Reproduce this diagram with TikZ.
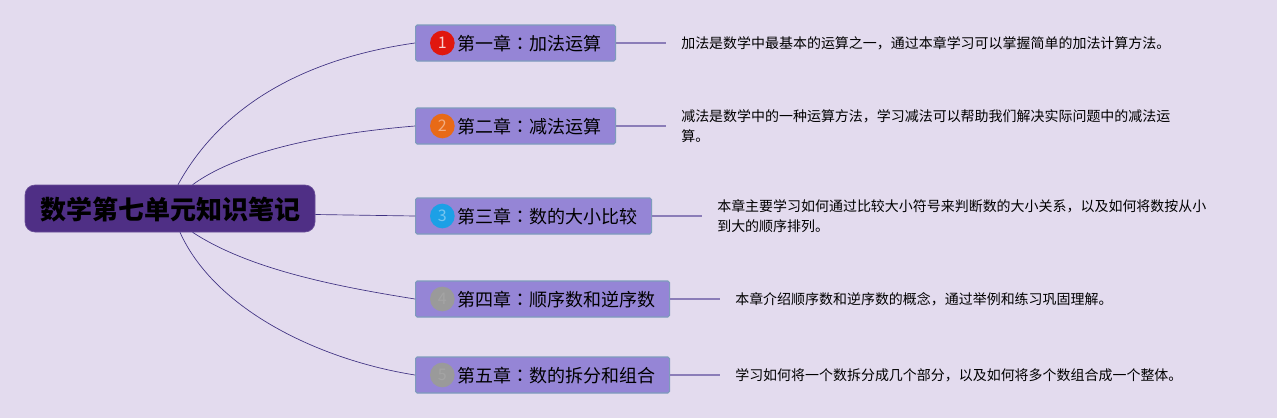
\documentclass[tikz,border=0pt]{standalone}
\usepackage{fontspec}
\setmainfont{Noto Sans CJK SC}
\newfontfamily\colonfont{Noto Sans CJK TC}
\usetikzlibrary{positioning}
\definecolor{paper}{HTML}{E3DBEE}
\definecolor{titlefill}{HTML}{4F2F85}
\definecolor{chapfill}{HTML}{9585D6}
\definecolor{chapline}{HTML}{7E9BBC}
\definecolor{curveline}{HTML}{3F3182}
\definecolor{stubline}{HTML}{8B7DB8}
\definecolor{badgered}{HTML}{E0170F}
\definecolor{badgeorange}{HTML}{E86A17}
\definecolor{badgeblue}{HTML}{1CA0E6}
\definecolor{badgegray}{HTML}{9A9A9A}
\newcommand{\chapcolon}{{\colonfont ：}}
\tikzset{
  maptitle/.style={rectangle, rounded corners=7.5pt, fill=titlefill, draw=titlefill!85!white, line width=0.5pt,
    minimum width=217.5pt, minimum height=35.25pt, inner sep=0pt, text height=16pt, text depth=0pt,
    font=\fontsize{19.5}{22}\selectfont\bfseries},
  chapter/.style={rectangle, rounded corners=1.2pt, fill=chapfill, draw=chapline, line width=0.8pt, anchor=west,
    minimum height=27pt, inner xsep=0pt, inner ysep=0pt, text height=12pt, text depth=0.3pt,
    font=\fontsize{13.5}{16}\selectfont,
    execute at begin node={\hspace*{31.5pt}}, execute at end node={\hspace*{10.5pt}}},
  badge/.style={circle, minimum size=18.5pt, inner sep=0pt, font=\fontsize{12}{13}\selectfont},
  note/.style={anchor=west, align=left, inner xsep=11.25pt, inner ysep=0pt, font=\fontsize{10.48}{15.4}\selectfont},
  branch/.style={curveline, line width=0.5pt},
  stub/.style={stubline, line width=0.9pt}
}
\begin{document}
\begin{tikzpicture}[x=0.75pt, y=-0.75pt]
  \fill[paper] (0,0) rectangle (1277,418);
  \useasboundingbox (0,0) rectangle (1277,418);

  % Central title
  \node[maptitle] (title) at (170,208.5) {数学第七单元知识笔记};

  % Chapters
  \node[chapter] (ch1) at (415,43) {第一章\chapcolon 加法运算};
  \node[chapter] (ch2) at (415,126) {第二章\chapcolon 减法运算};
  \node[chapter] (ch3) at (415,216) {第三章\chapcolon 数的大小比较};
  \node[chapter] (ch4) at (415,299) {第四章\chapcolon 顺序数和逆序数};
  \node[chapter] (ch5) at (415,375) {第五章\chapcolon 数的拆分和组合};

  % Numbered badges
  \node[badge, fill=badgered, text=white!80!badgered] (b1) at ([xshift=20.5pt]ch1.west) {1};
  \node[badge, fill=badgeorange, text=badgeorange!55!white] (b2) at ([xshift=20.5pt]ch2.west) {2};
  \node[badge, fill=badgeblue, text=badgeblue!60!white] (b3) at ([xshift=20.5pt]ch3.west) {3};
  \node[badge, fill=badgegray, text=badgegray!90!white] (b4) at ([xshift=20.5pt]ch4.west) {4};
  \node[badge, fill=badgegray, text=badgegray!90!white] (b5) at ([xshift=20.5pt]ch5.west) {5};

  % Notes
  \node[note] (note1) at (666,43) {加法是数学中最基本的运算之一，通过本章学习可以掌握简单的加法计算方法。};
  \node[note] (note2) at (666,126) {减法是数学中的一种运算方法，学习减法可以帮助我们解决实际问题中的减法运\\算。};
  \node[note] (note3) at (702,216) {本章主要学习如何通过比较大小符号来判断数的大小关系，以及如何将数按从小\\到大的顺序排列。};
  \node[note] (note4) at (720,299) {本章介绍顺序数和逆序数的概念，通过举例和练习巩固理解。};
  \node[note] (note5) at (720,375) {学习如何将一个数拆分成几个部分，以及如何将多个数组合成一个整体。};

  % Branches
  \draw[branch] ([xshift=6pt]title.north) .. controls (230,90) and (330,55) .. (ch1.west);
  \draw[branch] ([xshift=17pt]title.north) .. controls (240,150) and (330,133) .. (ch2.west);
  \draw[branch] ([yshift=-4.5pt]title.east) -- (ch3.west);
  \draw[branch] ([xshift=17pt]title.south) .. controls (250,270) and (340,287) .. (ch4.west);
  \draw[branch] ([xshift=7.5pt]title.south) .. controls (215,310) and (320,360) .. (ch5.west);

  % Stubs
  \draw[stub] (ch1.east) -- (note1.west);
  \draw[stub] (ch2.east) -- (note2.west);
  \draw[stub] (ch3.east) -- (note3.west);
  \draw[stub] (ch4.east) -- (note4.west);
  \draw[stub] (ch5.east) -- (note5.west);
\end{tikzpicture}
\end{document}
